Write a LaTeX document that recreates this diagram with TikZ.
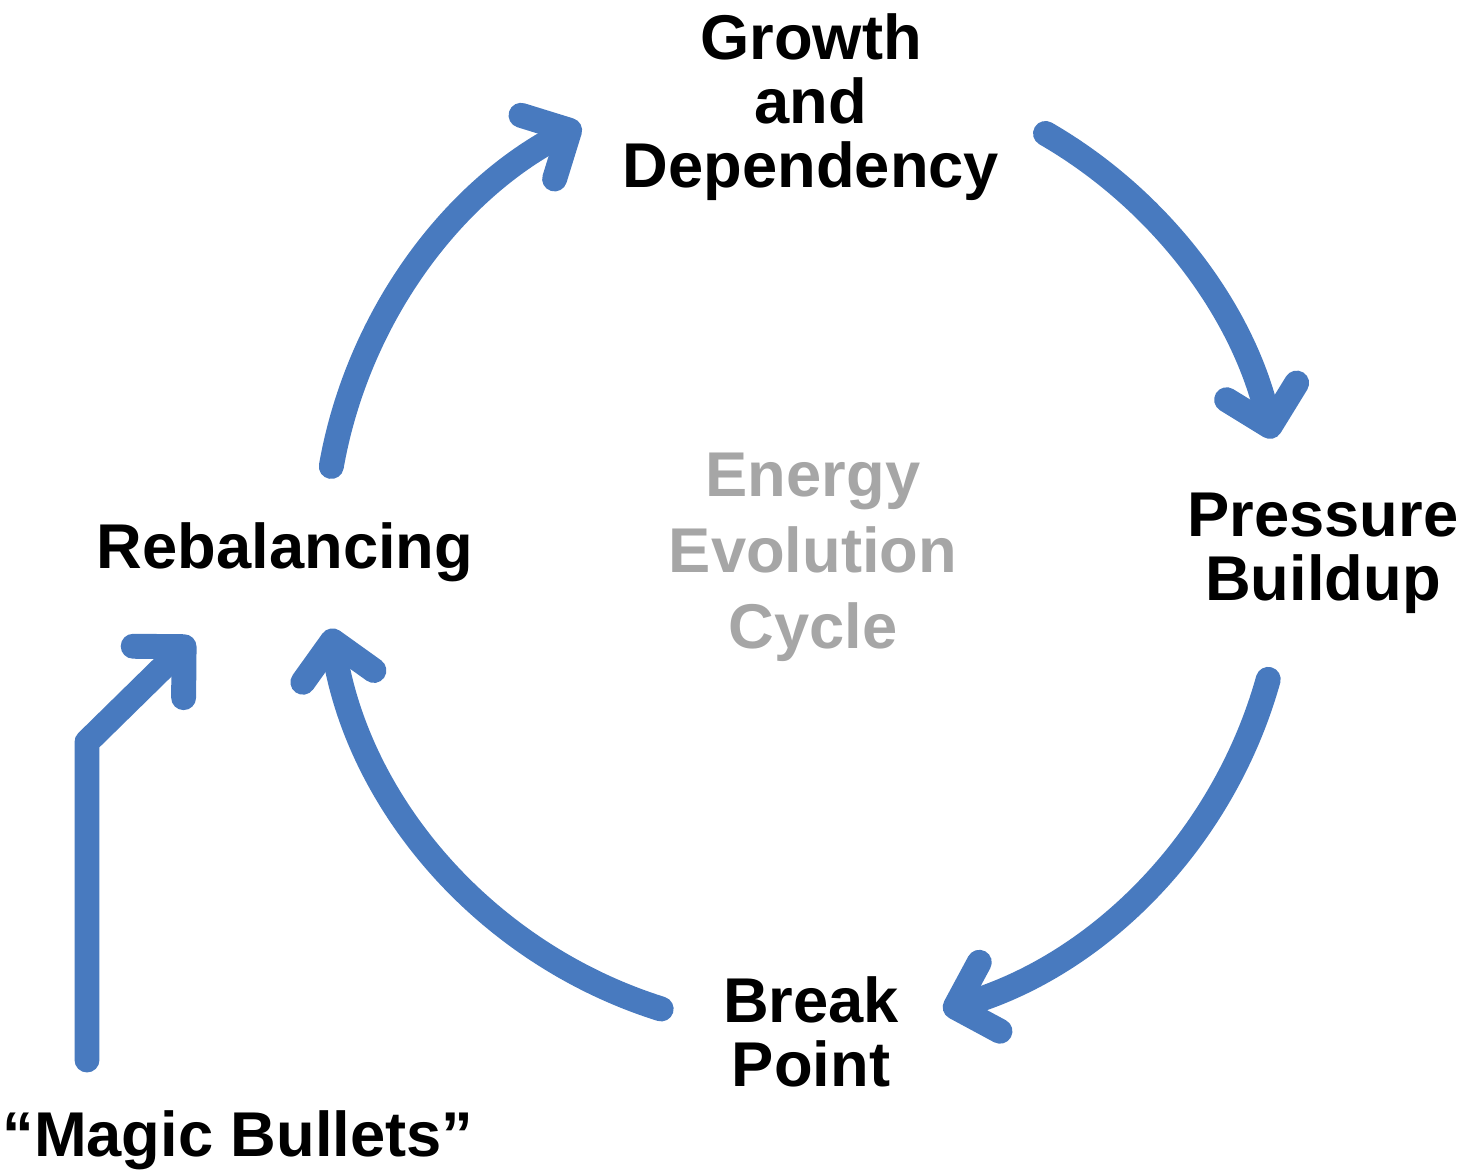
\documentclass[tikz,border=0pt]{standalone}
\usepackage{fontspec}
\setmainfont{Liberation Sans}
\usetikzlibrary{arrows.meta}
\definecolor{cycblue}{RGB}{72,122,191}
\definecolor{midgray}{RGB}{166,166,166}

\begin{document}
\begin{tikzpicture}[
  cyc/.style={draw=cycblue, line width=7.1pt, line cap=round, line join=round,
    -{Straight Barb[length=3.6mm,width=7.2mm,round]}},
  lbl/.style={align=center, inner sep=0pt, font=\fontsize{18}{18.2}\selectfont\bfseries},
  mid/.style={align=center, inner sep=0pt, text=midgray, font=\fontsize{18}{21.6}\selectfont\bfseries}]
\useasboundingbox (0,0) rectangle (14.65,-11.72);
%labels
\node[lbl] (grow) at (8.11,-1.07) {Growth\\and\\Dependency};
\node[lbl] (press) at (13.23,-5.53) {Pressure\\Buildup};
\node[lbl] (brk) at (8.11,-10.32) {Break\\Point};
\node[lbl] (rebal) at (2.85,-5.52) {Rebalancing};
\node[lbl] (magic) at (2.38,-11.40) {“Magic Bullets”};
\node[mid] (evo) at (8.13,-5.57) {Energy\\Evolution\\Cycle};
%cycle
\coordinate (c) at (8.05,-5.50);
\draw[cyc] ([shift={(60:4.81)}]c) arc[start angle=60, end angle=13.4, radius=4.81];
\draw[cyc] ([shift={(-15.6:4.81)}]c) arc[start angle=-15.6, end angle=-73.3, radius=4.81];
\draw[cyc] ([shift={(252.6:4.81)}]c) arc[start angle=252.6, end angle=189.4, radius=4.81];
\draw[cyc] ([shift={(170:4.81)}]c) arc[start angle=170, end angle=117.8, radius=4.81];
%magic bullets
\coordinate (mbfoot) at (0.87,-10.60);
\coordinate (mbbend) at (0.87,-7.42);
\coordinate (mbtip) at (1.93,-6.38);
\draw[cyc] (mbfoot) -- (mbbend) -- (mbtip);
\end{tikzpicture}
\end{document}
